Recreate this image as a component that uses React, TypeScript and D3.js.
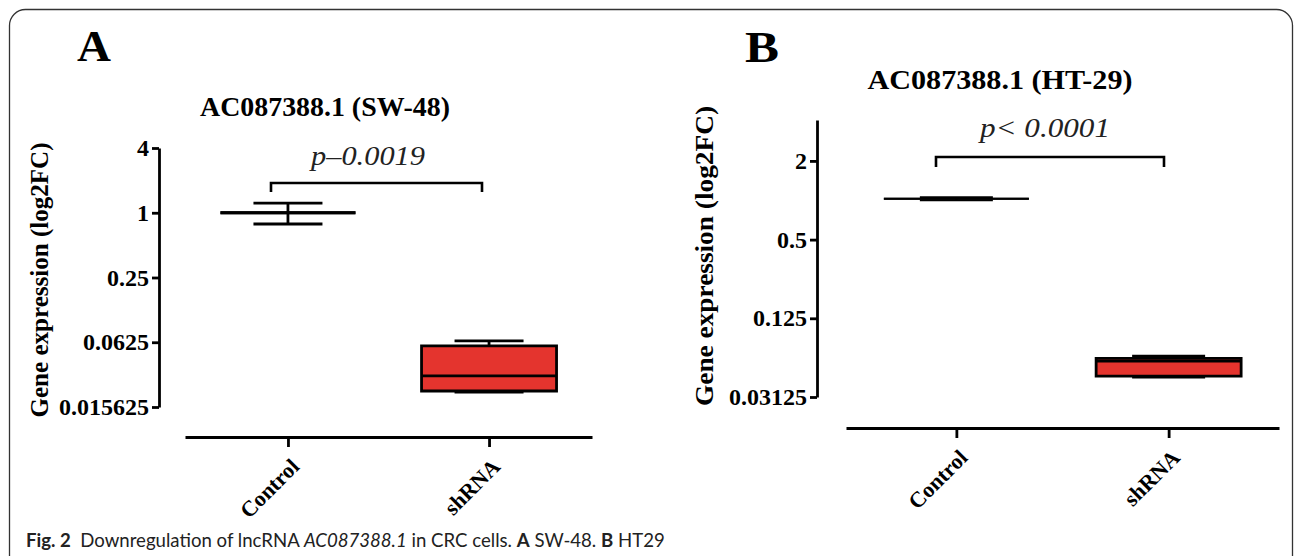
import React, { useEffect, useRef } from "react";
import * as d3 from "d3";

const categories = ["Control", "shRNA"];

// Panel A: SW-48
const swTicks = [4, 1, 0.25, 0.0625, 0.015625];
const swTickLabels = ["4", "1", "0.25", "0.0625", "0.015625"];
const swMin = [0.786, 0.0215];
const swQ1 = [1.0, 0.022];
const swMedian = [1.0, 0.0304];
const swQ3 = [1.0, 0.0578];
const swMax = [1.23, 0.0643];
const swTitle = "AC087388.1 (SW-48)";
const swP = "p–0.0019";

// Panel B: HT-29
const htTicks = [2, 0.5, 0.125, 0.03125];
const htTickLabels = ["2", "0.5", "0.125", "0.03125"];
const htMin = [1.0, 0.0444];
const htQ1 = [1.027, 0.0452];
const htMedian = [1.027, 0.0587];
const htQ3 = [1.027, 0.0617];
const htMax = [1.054, 0.0642];
const htTitle = "AC087388.1 (HT-29)";
const htP = "p< 0.0001";

const yLabel = "Gene expression (log2FC)";
const SERIF = "'Liberation Serif', 'Times New Roman', serif";
const RED = "#e4342e";

type Cfg = {
  letter: string; letterX: number; letterY: number;
  title: string; titleX: number; titleY: number; titleLen: number;
  axisX: number; yDomain: [number, number]; yRange: [number, number];
  ticks: number[]; tickLabels: string[];
  xAxisY: number; xRange: [number, number]; xPad: number;
  boxW: number; capW: number;
  min: number[]; q1: number[]; med: number[]; q3: number[]; max: number[];
  bx0: number; bx1: number; by: number; bleg: number;
  p: string; pX: number; pY: number; pLen: number;
  yLabX: number; yLabY: number; yLabLen: number;
  sw: number; ctrlSw: number;
};

const cfgA: Cfg = {
  letter: "A", letterX: 77, letterY: 61,
  title: swTitle, titleX: 325, titleY: 116, titleLen: 250,
  axisX: 159, yDomain: [0.015625, 4], yRange: [407, 148],
  ticks: swTicks, tickLabels: swTickLabels,
  xAxisY: 437, xRange: [185, 592], xPad: 0.512,
  boxW: 135, capW: 69,
  min: swMin, q1: swQ1, med: swMedian, q3: swQ3, max: swMax,
  bx0: 271, bx1: 482, by: 183, bleg: 9,
  p: swP, pX: 368, pY: 165, pLen: 114,
  yLabX: 48, yLabY: 280, yLabLen: 275,
  sw: 2.8, ctrlSw: 2.8,
};

const cfgB: Cfg = {
  letter: "B", letterX: 745, letterY: 62,
  title: htTitle, titleX: 1000, titleY: 89, titleLen: 265,
  axisX: 817, yDomain: [0.03125, Math.pow(2, 2.04)], yRange: [397, 120],
  ticks: htTicks, tickLabels: htTickLabels,
  xAxisY: 428, xRange: [846, 1279], xPad: 0.52,
  boxW: 145, capW: 73,
  min: htMin, q1: htQ1, med: htMedian, q3: htQ3, max: htMax,
  bx0: 936, bx1: 1164, by: 157, bleg: 10,
  p: htP, pX: 1045, pY: 137, pLen: 130,
  yLabX: 713, yLabY: 256, yLabLen: 300,
  sw: 2.8, ctrlSw: 2.2,
};

function Panel({ c }: { c: Cfg }) {
  const yRef = useRef<SVGGElement>(null);
  const xRef = useRef<SVGGElement>(null);
  const y = d3.scaleLog().base(2).domain(c.yDomain).range(c.yRange);
  const x = d3.scalePoint<string>().domain(categories).range(c.xRange).padding(c.xPad);

  useEffect(() => {
    const ya = d3.axisLeft(y).tickValues(c.ticks)
      .tickFormat((_d, i) => c.tickLabels[i]).tickSize(7).tickSizeOuter(0).tickPadding(3);
    const yg = d3.select(yRef.current!);
    yg.call(ya as any);
    yg.selectAll("path,line").attr("stroke", "#000").attr("stroke-width", c.sw);
    yg.selectAll("text").attr("font-family", SERIF).attr("font-weight", "bold")
      .attr("font-size", 24).attr("fill", "#000");

    const xa = d3.axisBottom(x).tickSize(10).tickSizeOuter(0).tickPadding(6);
    const xg = d3.select(xRef.current!);
    xg.call(xa as any);
    xg.selectAll("path,line").attr("stroke", "#000").attr("stroke-width", c.sw);
    xg.selectAll("text").attr("font-family", SERIF).attr("font-weight", "bold")
      .attr("font-size", 22).attr("fill", "#000")
      .attr("text-anchor", "end").attr("dy", 0).attr("y", 0)
      .attr("transform", "translate(12,31) rotate(-45)");
  });

  return (
    <g>
      <text x={c.letterX} y={c.letterY} fontFamily={SERIF} fontWeight="bold" fontSize={44}
        textLength={34} lengthAdjust="spacingAndGlyphs">{c.letter}</text>
      <text x={c.titleX} y={c.titleY} textAnchor="middle" fontFamily={SERIF} fontWeight="bold" fontSize={28}
        textLength={c.titleLen} lengthAdjust="spacingAndGlyphs">{c.title}</text>
      <text transform={`translate(${c.yLabX},${c.yLabY}) rotate(-90)`} textAnchor="middle" fontFamily={SERIF}
        fontWeight="bold" fontSize={25} textLength={c.yLabLen} lengthAdjust="spacingAndGlyphs">{yLabel}</text>
      <g ref={yRef} transform={`translate(${c.axisX},0)`} />
      <g ref={xRef} transform={`translate(0,${c.xAxisY})`} />
      {categories.map((cat, i) => {
        const cx = x(cat)!;
        const hb = c.boxW / 2, hc = c.capW / 2;
        const yq1 = y(c.q1[i]), yq3 = y(c.q3[i]);
        const filled = yq1 - yq3 > 1;
        return (
          <g key={cat} stroke="#000" strokeWidth={filled ? c.sw : c.ctrlSw}>
            <line x1={cx} x2={cx} y1={y(c.min[i])} y2={y(c.max[i])} />
            <line x1={cx - hc} x2={cx + hc} y1={y(c.min[i])} y2={y(c.min[i])} />
            <line x1={cx - hc} x2={cx + hc} y1={y(c.max[i])} y2={y(c.max[i])} />
            <path d={`M${cx - hb},${yq3}H${cx + hb}V${yq1}H${cx - hb}Z`} fill={filled ? RED : "none"} />
            <line x1={cx - hb} x2={cx + hb} y1={y(c.med[i])} y2={y(c.med[i])} />
          </g>
        );
      })}
      <path d={`M${c.bx0},${c.by + c.bleg}V${c.by}H${c.bx1}V${c.by + c.bleg}`} fill="none" stroke="#000" strokeWidth={2.6} />
      <text x={c.pX} y={c.pY} textAnchor="middle" fontFamily={SERIF} fontStyle="italic" fontSize={27}
        textLength={c.pLen} lengthAdjust="spacingAndGlyphs" fill="#222">{c.p}</text>
    </g>
  );
}

export default function App() {
  return (
    <svg width={1295} height={556} style={{ position: "absolute", left: 0, top: 0, background: "#fff" }}>
      <rect x={9.5} y={9.5} width={1283} height={580} rx={16} fill="#fff" stroke="#333" strokeWidth={1.3} />
      <Panel c={cfgA} />
      <Panel c={cfgB} />
      <text x={26} y={547} fontFamily="Lato, 'Open Sans', sans-serif" fontSize={18.6} fill="#222">
        <tspan fontWeight="bold">Fig. 2</tspan>
        <tspan>{"\u00a0\u00a0Downregulation of lncRNA "}</tspan>
        <tspan fontStyle="italic">AC087388.1</tspan>
        <tspan>{" in CRC cells. "}</tspan>
        <tspan fontWeight="bold">A</tspan>
        <tspan>{" SW-48. "}</tspan>
        <tspan fontWeight="bold">B</tspan>
        <tspan>{" HT29"}</tspan>
      </text>
    </svg>
  );
}
